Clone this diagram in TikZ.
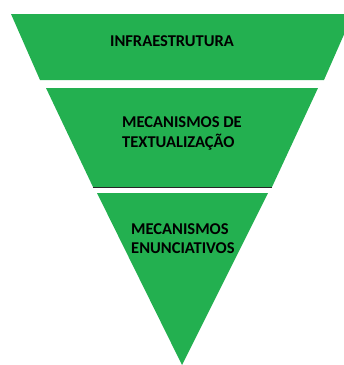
\documentclass[tikz,border=0pt]{standalone}
\usepackage{fontspec}
\setmainfont{Carlito}
\definecolor{funil}{RGB}{35,176,80}
\begin{document}
\begin{tikzpicture}[x=1pt,y=-1pt,
  rotulo/.style={font=\bfseries\fontsize{16.5}{19.5}\selectfont, align=left, inner sep=0pt}]
\useasboundingbox (0,0) rectangle (344,365);
\clip (0,0) rectangle (344,365);

% camadas do funil
\fill[funil] (11,14) -- (353,14) -- (324,80) -- (40,80) -- cycle;
\fill[funil] (46,88) -- (318,88) -- (272,187) -- (93,187) -- cycle;
\draw[black!85, line width=0.8pt] (93,187) -- (272,187);
\fill[funil] (97,193) -- (268,193) -- (182,365) -- cycle;

\node[rotulo] (infra) at (172,41) {INFRAESTRUTURA};
\node[rotulo, anchor=west] (textual) at (122,133.5) {MECANISMOS DE\\TEXTUALIZAÇÃO};
\node[rotulo, anchor=west] (enunc) at (131,238.5) {MECANISMOS\\ENUNCIATIVOS};

\end{tikzpicture}
\end{document}
